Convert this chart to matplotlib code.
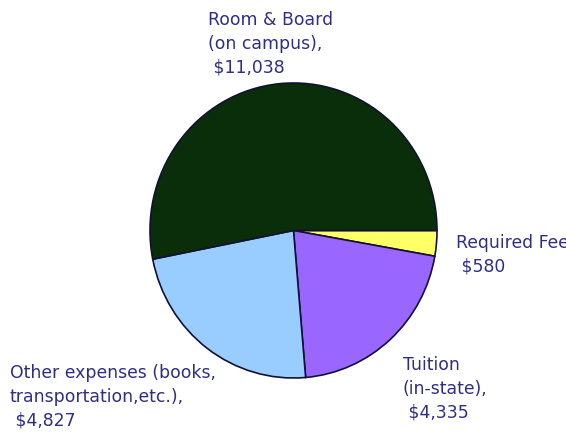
import matplotlib
matplotlib.use("Agg")
import matplotlib.pyplot as plt

# slices listed clockwise starting from 3 o'clock
labels = ["Required Fees\n $580",
          "Tuition\n(in-state),\n $4,335",
          "Other expenses (books,\ntransportation,etc.),\n $4,827",
          "Room & Board\n(on campus),\n $11,038"]
costs = [580, 4335, 4827, 11038]
colors = ["#ffff66", "#9966ff", "#99ccff", "#0a2e0a"]

# where the label text starts (left / top, in pixels from top-left)
label_pos = [(456, 234), (403, 356), (10, 364), (208, 11)]

W, H = 566, 432
fig = plt.figure(figsize=(W / 100, H / 100), dpi=100)

# pie box in pixel coordinates
left, right, top, bottom = 150, 437, 83, 378
ax = fig.add_axes([left / W, 1 - bottom / H, (right - left) / W, (bottom - top) / H])
ax.pie(costs, colors=colors, startangle=0, counterclock=False,
       wedgeprops=dict(edgecolor="#111133", linewidth=1.2))
ax.set_aspect("auto")
ax.set_xlim(-1, 1)
ax.set_ylim(-1, 1)
ax.axis("off")

for text, (x, y) in zip(labels, label_pos):
    fig.text(x / W, 1 - y / H, text, ha="left", va="top", fontsize=12.4,
             color="#2e2e8a", linespacing=1.42, family="DejaVu Sans")

fig.savefig("out.png", dpi=100)
